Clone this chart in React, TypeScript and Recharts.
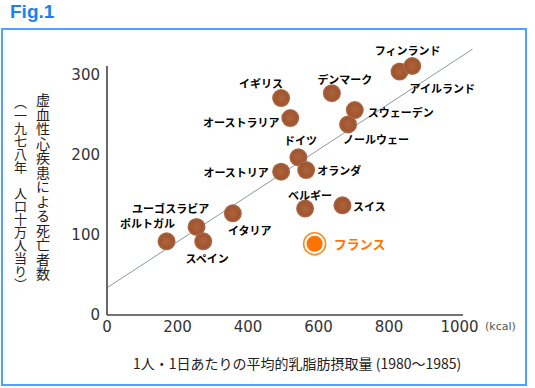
import React from 'react';
import { ScatterChart, Scatter, XAxis, YAxis, ReferenceLine } from 'recharts';

const countries = ['フィンランド', 'アイルランド', 'デンマーク', 'スウェーデン', 'ノールウェー', 'イギリス', 'オーストラリア', 'ドイツ', 'オーストリア', 'オランダ', 'ベルギー', 'スイス', 'イタリア', 'ユーゴスラビア', 'ポルトガル', 'スペイン'];
const milkFat = [830, 866, 638, 703, 684, 494, 520, 543, 494, 565, 562, 668, 357, 254, 169, 273];
const deaths = [304, 311, 277, 256, 238, 271, 246, 197, 179, 181, 133, 137, 127, 110, 92, 92];

const franceName = ['フランス'];
const franceMilkFat = [589];
const franceDeaths = [89];

const trendX = [0, 1037];
const trendY = [34, 332];

const xTicks = [0, 200, 400, 600, 800, 1000];
const yTicks = [0, 100, 200, 300];

const title = 'Fig.1';
const xLabel = '1人・1日あたりの平均的乳脂肪摂取量 (1980〜1985)';
const xUnit = '(kcal)';
const yLabel1 = '虚血性心疾患による死亡者数';
const yLabel2 = '（一九七八年　人口十万人当り）';

const mainData = countries.map((name, i) => ({ name, x: milkFat[i], y: deaths[i] }));
const franceData = franceName.map((name, i) => ({ name, x: franceMilkFat[i], y: franceDeaths[i] }));

// label placement (pixel offsets from point center)
const labelOffsets: Record<string, [number, number]> = {
  'フィンランド': [8, -22],
  'アイルランド': [30, 22],
  'デンマーク': [13, -14],
  'スウェーデン': [46, 2],
  'ノールウェー': [28, 15],
  'イギリス': [-20, -15],
  'オーストラリア': [-49, 4],
  'ドイツ': [2, -17],
  'オーストリア': [-45, 0],
  'オランダ': [33, 0],
  'ベルギー': [5, -14],
  'スイス': [27, 1],
  'イタリア': [17, 17],
  'ユーゴスラビア': [-26, -19],
  'ポルトガル': [-19, -18],
  'スペイン': [4, 17],
  'フランス': [45, 0],
};

const JP = '"Noto Sans CJK JP", "Noto Sans", sans-serif';

const BrownDot = (props: any) => {
  const { cx, cy, payload, index } = props;
  const off = labelOffsets[payload.name] || [0, -14];
  const gid = `bg${index}`;
  return (
    <g>
      <defs>
        <radialGradient id={gid} cx="50%" cy="50%" r="50%">
          <stop offset="0%" stopColor="#B0633A" />
          <stop offset="75%" stopColor="#9E5530" />
          <stop offset="100%" stopColor="#AE6F4C" />
        </radialGradient>
      </defs>
      <circle cx={cx} cy={cy} r={9} fill={`url(#${gid})`} />
      <text
        x={cx + off[0]}
        y={cy + off[1]}
        textAnchor="middle"
        dominantBaseline="central"
        fontFamily={JP}
        fontWeight={700}
        fontSize={11}
        fill="#000"
      >
        {payload.name}
      </text>
    </g>
  );
};

const FranceDot = (props: any) => {
  const { cx, cy, payload } = props;
  const off = labelOffsets[payload.name] || [0, -14];
  return (
    <g>
      <circle cx={cx} cy={cy} r={11} fill="#fff" stroke="#FF8A1E" strokeWidth={1.6} />
      <circle cx={cx} cy={cy} r={8} fill="#FF7300" />
      <text
        x={cx + off[0]}
        y={cy + off[1]}
        textAnchor="middle"
        dominantBaseline="central"
        fontFamily={JP}
        fontWeight={700}
        fontSize={13}
        fill="#FF7300"
      >
        {payload.name}
      </text>
    </g>
  );
};

export default function App() {
  return (
    <div style={{ position: 'absolute', left: 0, top: 0, width: 535, height: 388, background: '#fff' }}>
      <div
        style={{
          position: 'absolute', left: 10, top: 0, fontFamily: '"Liberation Sans", Arial, sans-serif',
          fontWeight: 700, fontSize: 19, color: '#1E80F0', lineHeight: '24px',
        }}
      >
        {title}
      </div>
      <div
        style={{
          position: 'absolute', left: 1, top: 28, width: 522, height: 354,
          border: '2px solid #4DA3FF',
        }}
      />
      <div style={{ position: 'absolute', left: 0, top: 0 }}>
        <ScatterChart width={535} height={388} margin={{ top: 66, right: 72, bottom: 33, left: 47 }}>
          <XAxis
            type="number"
            dataKey="x"
            domain={[0, 1010]}
            ticks={xTicks}
            tickLine={false}
            tickSize={0}
            tickMargin={6}
            height={40}
            axisLine={{ stroke: '#444', strokeWidth: 1.6 }}
            tick={{ fontFamily: '"DejaVu Sans", sans-serif', fontSize: 15, fill: '#333' }}
            interval={0}
          />
          <YAxis
            type="number"
            dataKey="y"
            domain={[0, 311]}
            ticks={yTicks}
            tickLine={false}
            tickSize={0}
            tickMargin={7}
            width={60}
            axisLine={{ stroke: '#444', strokeWidth: 1.6 }}
            tick={{ fontFamily: '"DejaVu Sans", sans-serif', fontSize: 15, fill: '#333' }}
            interval={0}
          />
          <ReferenceLine
            segment={[{ x: trendX[0], y: trendY[0] }, { x: trendX[1], y: trendY[1] }]}
            ifOverflow="visible"
            stroke="#8C98A4"
            strokeWidth={1}
          />
          <Scatter data={mainData} shape={BrownDot} isAnimationActive={false} />
          <Scatter data={franceData} shape={FranceDot} isAnimationActive={false} />
        </ScatterChart>
      </div>
      <div
        style={{
          position: 'absolute', left: 36, top: 93, writingMode: 'vertical-rl', fontFamily: JP,
          fontSize: 14, letterSpacing: 0.5, color: '#222', lineHeight: '14px',
        }}
      >
        {yLabel1}
      </div>
      <div
        style={{
          position: 'absolute', left: 14, top: 96, writingMode: 'vertical-rl', fontFamily: JP,
          fontSize: 13, color: '#222', lineHeight: '13px',
        }}
      >
        {yLabel2}
      </div>
      <div
        style={{
          position: 'absolute', left: 133, top: 354, fontFamily: JP, fontSize: 14, color: '#222',
          lineHeight: '18px', whiteSpace: 'nowrap',
        }}
      >
        {xLabel}
      </div>
      <div
        style={{
          position: 'absolute', left: 485, top: 320, fontFamily: '"DejaVu Sans", sans-serif', fontSize: 11,
          color: '#555', lineHeight: '14px', whiteSpace: 'nowrap',
        }}
      >
        {xUnit}
      </div>
    </div>
  );
}
